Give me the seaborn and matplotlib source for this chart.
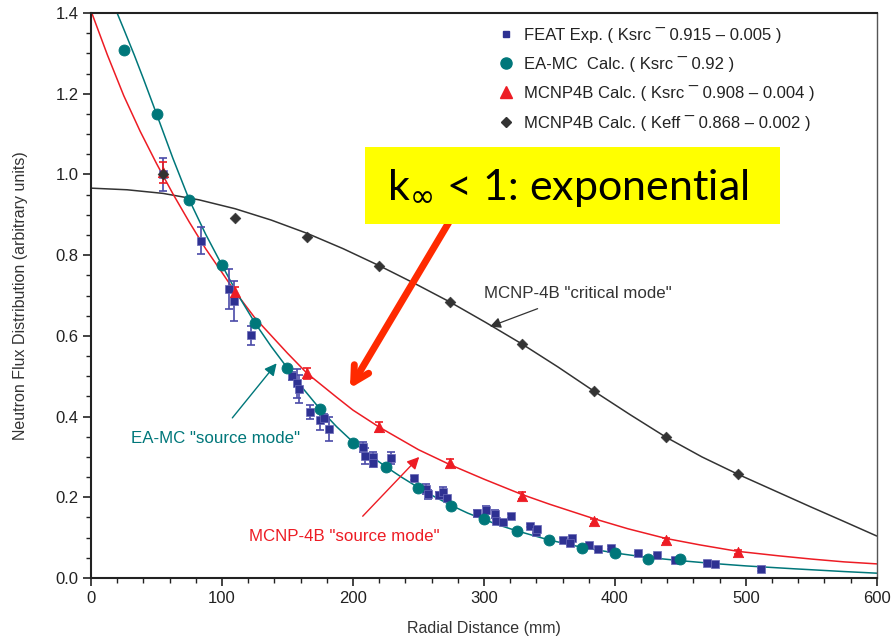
"""Neutron flux vs radial distance: FEAT experiment vs EA-MC / MCNP-4B calculations."""
import matplotlib
matplotlib.use("Agg")
import matplotlib.pyplot as plt
from matplotlib.lines import Line2D
from matplotlib.patches import Rectangle
from matplotlib.ticker import MultipleLocator, FormatStrFormatter
import seaborn as sns

# --- measured FEAT points (mm, flux, error) ---
feat_x = [55, 84, 105.5, 109.5, 122.5, 153.5, 157, 158.5, 167, 175, 178, 182,
          207.5, 209, 215, 215.5, 229, 246.7, 256, 257.5, 266, 268.7, 271.5,
          294.4, 301.5, 308.4, 309.2, 314.5, 321, 335, 340, 340.5, 360.5, 366.9,
          365.4, 380.6, 387.3, 396.8, 418, 432, 445.8, 470.5, 476.6, 511.2]
feat_y = [1.0, 0.836, 0.716, 0.687, 0.601, 0.500, 0.482, 0.468, 0.411, 0.392, 0.396, 0.369,
          0.325, 0.302, 0.301, 0.286, 0.297, 0.247, 0.220, 0.207, 0.206, 0.213, 0.198,
          0.160, 0.168, 0.158, 0.142, 0.139, 0.153, 0.130, 0.115, 0.121, 0.094, 0.100,
          0.086, 0.081, 0.073, 0.075, 0.061, 0.056, 0.045, 0.038, 0.035, 0.022]
feat_err = [0.04, 0.034, 0.05, 0.05, 0.023, 0.01, 0.035, 0.035, 0.017, 0.025, 0.01, 0.03,
            0.012, 0.02, 0.01, 0.012, 0.015, 0.005, 0.012, 0.012, 0.008, 0.012, 0.005,
            0.008, 0.01, 0.01, 0.005, 0.005, 0.005, 0.004, 0.004, 0.004, 0.004, 0.004,
            0.004, 0.004, 0.004, 0.004, 0.004, 0.004, 0.004, 0.004, 0.004, 0.004]

# --- EA-MC calculation ---
eamc_x = [25, 50, 75, 100, 125, 150, 175, 200, 225, 250, 275, 300, 325, 350, 375, 400, 425, 450]
eamc_y = [1.308, 1.150, 0.937, 0.775, 0.633, 0.520, 0.418, 0.335, 0.276, 0.224, 0.179,
          0.145, 0.116, 0.094, 0.075, 0.061, 0.048, 0.046]

# --- MCNP4B source / critical mode ---
mcnp_x = [55, 110, 165, 220, 274, 329, 384, 439, 494]
src_y = [1.005, 0.709, 0.507, 0.375, 0.284, 0.204, 0.141, 0.093, 0.064]
src_err = [0.027, 0.012, 0.014, 0.012, 0.01, 0.008, 0.006, 0.006, 0.005]
crit_y = [1.0, 0.891, 0.845, 0.774, 0.684, 0.580, 0.463, 0.349, 0.257]

# --- fitted curves ---
eamc_fit_x = [18, 25, 33, 40, 50, 62.5, 75, 87.5, 100, 112.5, 125, 137.5, 150, 162.5, 175,
              187.5, 200, 212.5, 225, 237.5, 250, 262.5, 275, 287.5, 300, 312.5, 325, 350,
              375, 400, 425, 450, 475, 500, 536, 575, 600]
eamc_fit_y = [1.415, 1.36, 1.296, 1.237, 1.150, 1.040, 0.937, 0.852, 0.775, 0.700, 0.633,
              0.574, 0.520, 0.467, 0.418, 0.375, 0.337, 0.305, 0.276, 0.249, 0.224, 0.201,
              0.180, 0.161, 0.145, 0.130, 0.117, 0.094, 0.076, 0.062, 0.051, 0.043, 0.036,
              0.030, 0.023, 0.016, 0.012]
src_fit_x = [0, 12.5, 25, 37.5, 50, 62.5, 75, 87.5, 100, 109.4, 125, 150, 165, 187.5, 200,
             220, 250, 274, 300, 329, 350, 384, 410, 439, 465, 494, 525, 550, 575, 600]
src_fit_y = [1.405, 1.296, 1.195, 1.107, 1.027, 0.952, 0.882, 0.816, 0.757, 0.712, 0.645,
             0.557, 0.507, 0.448, 0.416, 0.374, 0.318, 0.281, 0.245, 0.207, 0.183, 0.147,
             0.122, 0.098, 0.082, 0.066, 0.055, 0.047, 0.040, 0.035]
crit_fit_x = [0, 27.5, 55, 82.5, 110, 137.5, 165, 192.5, 220, 247, 274, 301.5, 329, 356.5,
              384, 411.5, 439, 466.5, 494, 521.5, 549, 575, 600]
crit_fit_y = [0.966, 0.962, 0.953, 0.937, 0.915, 0.887, 0.854, 0.816, 0.774, 0.730, 0.684,
              0.633, 0.580, 0.523, 0.463, 0.405, 0.349, 0.300, 0.257, 0.217, 0.177, 0.140,
              0.104]

BLUE = "#2e3192"
TEAL = "#00777a"
RED = "#ed1c24"
GREY = "#333333"

sns.set_style("ticks")
plt.rcParams["font.family"] = ["Liberation Sans", "DejaVu Sans"]

fig = plt.figure(figsize=(8.96, 6.37), dpi=100)
ax = fig.add_axes([0.1016, 0.0926, 0.877, 0.887])

# curves
sns.lineplot(x=crit_fit_x, y=crit_fit_y, ax=ax, color=GREY, lw=1.1, sort=False, estimator=None)
sns.lineplot(x=src_fit_x, y=src_fit_y, ax=ax, color=RED, lw=1.1, sort=False, estimator=None)
sns.lineplot(x=eamc_fit_x, y=eamc_fit_y, ax=ax, color=TEAL, lw=1.1, sort=False, estimator=None)

# error bars
ax.errorbar(feat_x, feat_y, yerr=feat_err, fmt="none", ecolor="#4a4aa8", elinewidth=1.2,
            capsize=3, capthick=1.2, zorder=3)
ax.errorbar(mcnp_x, src_y, yerr=src_err, fmt="none", ecolor=RED, elinewidth=1.2,
            capsize=3, capthick=1.2, zorder=3)

# markers
sns.scatterplot(x=feat_x, y=feat_y, ax=ax, marker="s", s=32, color=BLUE,
                edgecolor="#6a6ab8", linewidth=0.5, zorder=4)
sns.scatterplot(x=eamc_x, y=eamc_y, ax=ax, marker="o", s=62, color=TEAL,
                edgecolor=TEAL, zorder=5)
sns.scatterplot(x=mcnp_x, y=src_y, ax=ax, marker="^", s=55, color=RED,
                edgecolor=RED, zorder=5)
sns.scatterplot(x=mcnp_x, y=crit_y, ax=ax, marker="D", s=30, color=GREY,
                edgecolor=GREY, zorder=6)

ax.set_xlim(0, 600)
ax.set_ylim(0, 1.4)
ax.xaxis.set_major_locator(MultipleLocator(100))
ax.xaxis.set_minor_locator(MultipleLocator(20))
ax.yaxis.set_major_locator(MultipleLocator(0.2))
ax.yaxis.set_minor_locator(MultipleLocator(0.05))
ax.yaxis.set_major_formatter(FormatStrFormatter("%.1f"))
ax.tick_params(which="major", direction="out", length=6, width=1.2, labelsize=12,
               colors="#222222", pad=3)
ax.tick_params(which="minor", direction="out", length=3.5, width=1.0, colors="#222222")
for side in ["left", "bottom", "top"]:
    ax.spines[side].set_linewidth(1.5)
    ax.spines[side].set_color("#222222")
ax.spines["right"].set_linewidth(1.0)
ax.spines["right"].set_color("#555555")

ax.set_xlabel("Radial Distance (mm)", fontsize=11.5, color="#333333", labelpad=11)
ax.set_ylabel("Neutron Flux Distribution (arbitrary units)", fontsize=11.5,
              color="#333333", labelpad=20)

# legend
handles = [
    Line2D([], [], ls="none", marker="s", ms=5, color=BLUE),
    Line2D([], [], ls="none", marker="o", ms=8, color=TEAL),
    Line2D([], [], ls="none", marker="^", ms=8, color=RED),
    Line2D([], [], ls="none", marker="D", ms=5, color=GREY),
]
labels = [
    "FEAT Exp. ( Ksrc \u00af 0.915 \u2013 0.005 )",
    "EA-MC  Calc. ( Ksrc \u00af 0.92 )",
    "MCNP4B Calc. ( Ksrc \u00af 0.908 \u2013 0.004 )",
    "MCNP4B Calc. ( Keff \u00af 0.868 \u2013 0.002 )",
]
leg = fig.legend(handles, labels, loc="upper left", bbox_to_anchor=(0.556, 0.958),
                 frameon=False, fontsize=12, handlelength=0.95, handletextpad=0.6,
                 labelspacing=0.8, borderpad=0, borderaxespad=0)
for t in leg.get_texts():
    t.set_color("#222222")

# annotations
ax.annotate('MCNP-4B "critical mode"', xy=(304.6, 0.623), xytext=(371.8, 0.705),
            ha="center", va="center", fontsize=12.2, color=GREY,
            arrowprops=dict(arrowstyle="-|>", color=GREY, lw=0.9, mutation_scale=16,
                            shrinkA=9, shrinkB=0))
ax.annotate('EA-MC "source mode"', xy=(141.7, 0.532), xytext=(95.2, 0.346),
            ha="center", va="center", fontsize=12.2, color=TEAL,
            arrowprops=dict(arrowstyle="-|>", color=TEAL, lw=1.0, mutation_scale=18,
                            shrinkA=9, shrinkB=0))
ax.annotate('MCNP-4B "source mode"', xy=(250.6, 0.30), xytext=(193, 0.104),
            ha="center", va="center", fontsize=12.2, color=RED,
            arrowprops=dict(arrowstyle="-|>", color=RED, lw=1.0, mutation_scale=18,
                            shrinkA=9, shrinkB=0))

# big red arrow from the callout box
ax.annotate("", xy=(197.7, 0.470), xytext=(273, 0.88),
            arrowprops=dict(arrowstyle="->,head_length=1.1,head_width=0.6",
                            color="#ff2a00", lw=5, shrinkA=0, shrinkB=0), zorder=7)

# yellow callout
ax.add_patch(Rectangle((209.2, 0.877), 316.8, 0.191, facecolor="#ffff00",
                       edgecolor="none", zorder=8, clip_on=False))
ax.text(226, 0.966, "k$_{\\infty}$ < 1: exponential", fontsize=31, family=["Lato", "DejaVu Sans"],
        ha="left", va="center", color="black", zorder=9)

fig.savefig("out.png", dpi=100)
